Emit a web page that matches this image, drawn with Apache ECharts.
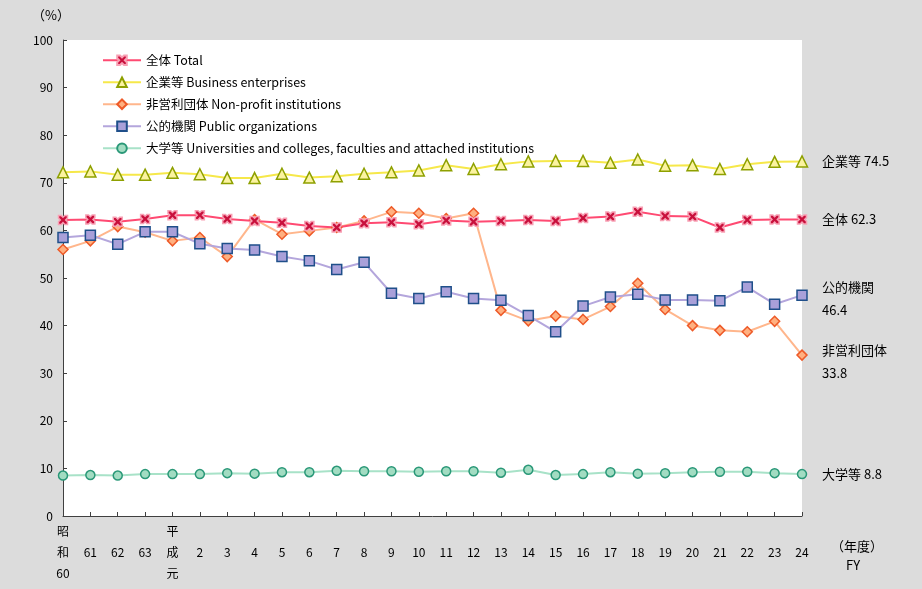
<!DOCTYPE html>
<html>
<head>
<meta charset="utf-8">
<script src="https://cdn.jsdelivr.net/npm/echarts@6/dist/echarts.min.js"></script>
<style>
html,body{margin:0;padding:0;background:#dcdcdc;}
#c{width:922px;height:589px;}
</style>
</head>
<body>
<div id="c"></div>
<script>
var categories = ['昭\n和\n60','\n61','\n62','\n63','平\n成\n元','\n2','\n3','\n4','\n5','\n6','\n7','\n8','\n9','\n10','\n11','\n12','\n13','\n14','\n15','\n16','\n17','\n18','\n19','\n20','\n21','\n22','\n23','\n24'];
var total = [62.2,62.3,61.8,62.4,63.2,63.2,62.4,62.0,61.6,60.9,60.6,61.5,61.7,61.3,62.1,61.8,62.0,62.2,62.0,62.6,62.9,63.9,63.0,62.9,60.6,62.2,62.3,62.3];
var business = [72.2,72.4,71.7,71.7,72.1,71.8,71.0,71.0,71.9,71.1,71.4,71.9,72.2,72.6,73.7,72.9,73.9,74.5,74.6,74.6,74.2,74.9,73.6,73.7,72.9,73.9,74.4,74.5];
var nonprofit = [56.0,57.8,60.8,59.6,57.8,58.5,54.5,62.3,59.2,59.9,60.6,62.0,63.9,63.6,62.5,63.6,43.2,41.0,42.0,41.3,44.0,48.9,43.4,40.0,39.0,38.7,40.9,33.8];
var publicOrg = [58.5,59.0,57.1,59.7,59.7,57.2,56.2,55.9,54.5,53.6,51.8,53.3,46.8,45.7,47.1,45.7,45.3,42.1,38.7,44.1,46.0,46.6,45.4,45.4,45.2,48.1,44.5,46.4];
var univ = [8.5,8.6,8.5,8.8,8.8,8.8,9.0,8.9,9.2,9.2,9.5,9.4,9.4,9.3,9.4,9.4,9.1,9.7,8.6,8.8,9.2,8.9,9.0,9.2,9.3,9.3,9.0,8.8];
var yTicks = [0,10,20,30,40,50,60,70,80,90,100];
var seriesNames = ['全体 Total','企業等 Business enterprises','非営利団体 Non-profit institutions','公的機関 Public organizations','大学等 Universities and colleges, faculties and attached institutions'];
var endNames = ['全体 ','企業等 ','非営利団体\n','公的機関\n','大学等 '];

var FONT = '"Noto Sans CJK JP", "Noto Sans", sans-serif';
var xPath = 'path://M0,0 L3,0 L5,2 L7,0 L10,0 L10,3 L8,5 L10,7 L10,10 L7,10 L5,8 L3,10 L0,10 L0,7 L2,5 L0,3 Z';

function mk(idx, data, lineColor, symbol, symSize, fill, stroke, endOffset){
  return {
    name: seriesNames[idx],
    type: 'line',
    data: data,
    symbol: symbol,
    symbolSize: symSize,
    showAllSymbol: true,
    lineStyle: {color: lineColor, width: 2},
    itemStyle: {color: fill, borderColor: stroke, borderWidth: 1.5},
    emphasis: {disabled: true},
    animation: false,
    endLabel: {
      show: true,
      formatter: function(p){ return endNames[idx] + p.value; },
      color: '#000',
      fontFamily: FONT,
      fontSize: 13,
      lineHeight: 23,
      distance: 20,
      offset: endOffset || [0,0]
    }
  };
}

var chart = echarts.init(document.getElementById('c'), null, {renderer: 'canvas'});
chart.setOption({
  backgroundColor: '#dcdcdc',
  animation: false,
  grid: {left: 63, right: 120, top: 40, bottom: 73, show: true, backgroundColor: '#ffffff', borderWidth: 0},
  legend: {
    orient: 'vertical',
    left: 97,
    top: 49,
    itemWidth: 38,
    itemHeight: 12,
    itemGap: 9.5,
    textStyle: {fontFamily: FONT, fontSize: 12.5, color: '#000'},
    data: seriesNames
  },
  xAxis: {
    type: 'category',
    boundaryGap: false,
    data: categories,
    axisLine: {lineStyle: {color: '#404040', width: 1}},
    axisTick: {inside: true, length: 4, lineStyle: {color: '#404040'}},
    axisLabel: {interval: 0, color: '#000', fontFamily: FONT, fontSize: 12, lineHeight: 21, margin: 5, verticalAlign: 'top'},
    splitLine: {show: false}
  },
  yAxis: {
    type: 'value',
    min: 0, max: 100, interval: 10,
    axisLine: {show: true, lineStyle: {color: '#404040', width: 1}},
    axisTick: {show: true, inside: true, length: 4, lineStyle: {color: '#404040'}},
    axisLabel: {color: '#000', fontFamily: FONT, fontSize: 12, margin: 10,
      formatter: function(v){ return yTicks.indexOf(v) >= 0 ? String(v) : ''; }},
    splitLine: {show: false}
  },
  graphic: [
    {type: 'text', left: 32, top: 9, style: {text: '（%）', font: '13px ' + FONT, fill: '#000'}},
    {type: 'text', left: 831, top: 540, style: {text: '（年度）', font: '13px ' + FONT, fill: '#000'}},
    {type: 'text', left: 846, top: 559, style: {text: 'FY', font: '13px ' + FONT, fill: '#000'}}
  ],
  series: [
    mk(4, univ, '#a8e2c8', 'circle', 9, '#a2dcc2', '#2a9878'),
    mk(2, nonprofit, '#ffb68c', 'diamond', 10, '#ffb080', '#ee5a28', [0, 6]),
    mk(3, publicOrg, '#b4a6dc', 'rect', 10, '#a9a0d9', '#1f4f8a', [0, 3]),
    mk(1, business, '#f6e84a', 'triangle', 11, '#fbf3a0', '#8ea000'),
    mk(0, total, '#ff4a72', xPath, 9, '#c8103c', '#f8a0b4')
  ]
});
</script>
</body>
</html>
